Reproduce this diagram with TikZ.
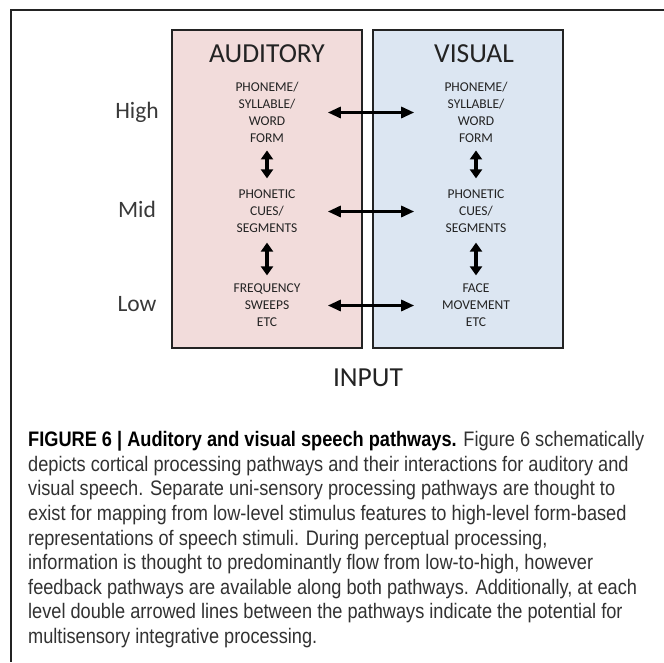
\documentclass[tikz,border=0pt]{standalone}
\usepackage{fontspec}
\setmainfont{Carlito}
\newfontfamily\capfont[FakeStretch=0.866]{Liberation Sans}
\usetikzlibrary{arrows.meta}
\definecolor{audfill}{RGB}{242,220,219}
\definecolor{visfill}{RGB}{220,230,242}
\definecolor{ink}{RGB}{35,35,35}
\definecolor{captext}{RGB}{50,50,50}

\begin{document}
\begin{tikzpicture}[x=1pt,y=-1pt,
  frame/.style={draw=ink, line width=1.5pt},
  pathbox/.style={draw=ink, line width=1.6pt, inner sep=0pt,
    minimum width=190pt, minimum height=318pt},
  title/.style={font=\fontsize{27.5}{30}\selectfont, text=ink, inner sep=0pt, anchor=base},
  level/.style={font=\fontsize{23.5}{26}\selectfont, text=ink!90, inner sep=0pt, anchor=base},
  stage/.style={font=\fontsize{13.5}{17}\selectfont, text=ink, align=center, inner sep=0pt},
  link/.style={{Triangle[length=13pt,width=11pt]}-{Triangle[length=13pt,width=11pt]},
    line width=3pt, draw=black},
  updown/.style={{Triangle[length=9pt,width=12pt]}-{Triangle[length=9pt,width=12pt]},
    line width=3.5pt, draw=black},
]
\useasboundingbox (0,0) rectangle (664,662);
\fill[white] (0,0) rectangle (664,662);

% page frame (top and left rules)
\draw[frame] (664,10) -- (11,10) -- (11,662);

% the two pathways
\node[pathbox, fill=audfill] (aud) at (267,189) {};
\node[pathbox, fill=visfill] (vis) at (468,189) {};

\node[title] (audT) at (267,62.5) {AUDITORY};
\node[title] (visT) at (474,62.5) {VISUAL};

% processing levels
\node[level] (lvH) at (137,118.5) {High};
\node[level] (lvM) at (137,217.5) {Mid};
\node[level] (lvL) at (137,311) {Low};

% auditory stages
\node[stage] (aH) at (267,112.5) {PHONEME/\\SYLLABLE/\\WORD\\FORM};
\node[stage] (aM) at (267,211.5) {PHONETIC\\CUES/\\SEGMENTS};
\node[stage] (aL) at (267,305.5) {FREQUENCY\\SWEEPS\\ETC};

% visual stages
\node[stage] (vH) at (476,112.5) {PHONEME/\\SYLLABLE/\\WORD\\FORM};
\node[stage] (vM) at (476,211.5) {PHONETIC\\CUES/\\SEGMENTS};
\node[stage] (vL) at (476,305.5) {FACE\\MOVEMENT\\ETC};

% feed-forward / feedback within each pathway
\draw[updown] ([yshift=-7.5pt]aH.south) -- ([yshift=11.5pt]aM.north);
\draw[updown] ([yshift=-9.5pt]aM.south) -- ([yshift=8.5pt]aL.north);
\draw[updown] ([yshift=-7.5pt]vH.south) -- ([yshift=11.5pt]vM.north);
\draw[updown] ([yshift=-9.5pt]vM.south) -- ([yshift=8.5pt]vL.north);

% cross-modal links at each level
\draw[link] ([xshift=-35pt]aud.east |- aH) -- ([xshift=42pt]vis.west |- vH);
\draw[link] ([xshift=-35pt]aud.east |- aM) -- ([xshift=42pt]vis.west |- vM);
\draw[link] ([xshift=-35pt]aud.east |- aL) -- ([xshift=42pt]vis.west |- vL);

\node[title] (input) at (368,386.5) {INPUT};

% caption; the strut fixes the first baseline 20pt below the node top
\node[anchor=north west, inner sep=0pt, align=left, text=captext,
  font=\capfont\fontsize{21}{24.6}\selectfont] (cap) at (28,426.5)
{\rule{0pt}{20pt}{\color{black}\bfseries FIGURE 6 | Auditory and visual speech pathways.} Figure 6 schematically\\
depicts cortical processing pathways and their interactions for auditory and\\
visual speech. Separate uni-sensory processing pathways are thought to\\
exist for mapping from low-level stimulus features to high-level form-based\\
representations of speech stimuli. During perceptual processing,\\
information is thought to predominantly flow from low-to-high, however\\
feedback pathways are available along both pathways. Additionally, at each\\
level double arrowed lines between the pathways indicate the potential for\\
multisensory integrative processing.};
\end{tikzpicture}
\end{document}
